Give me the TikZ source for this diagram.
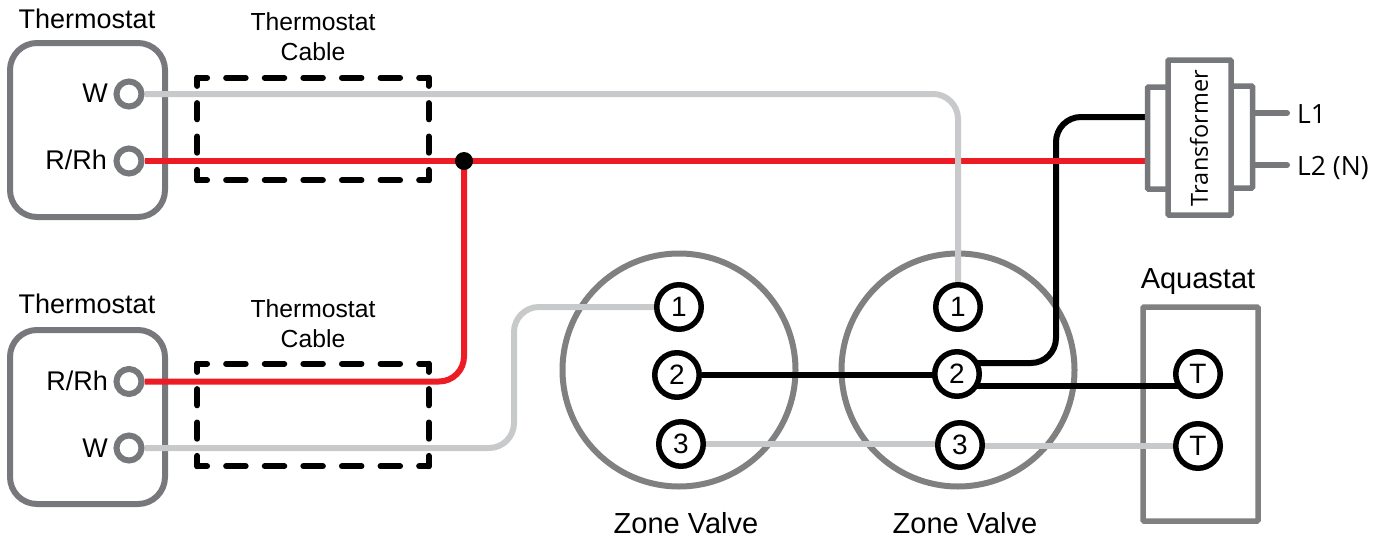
\documentclass[tikz,border=0pt]{standalone}
\usepackage{fontspec}
\setmainfont{Liberation Sans}
\newfontfamily\myr{Open Sans}
\usetikzlibrary{calc}
\definecolor{outl}{HTML}{77787B}
\definecolor{valv}{HTML}{808080}
\definecolor{wgray}{HTML}{C8C9CA}
\definecolor{wred}{HTML}{ED1C24}
\pgfdeclarelayer{shell}\pgfdeclarelayer{wires}
\pgfsetlayers{shell,wires,main}
\tikzset{
  x=1pt,y=-1pt,
  tstat/.style={draw=outl,line width=6pt,rounded corners=27pt,minimum width=155pt,minimum height=174pt,inner sep=0pt,fill=white},
  cablebox/.style={minimum width=231pt,minimum height=102pt,inner sep=0pt},
  cabh/.style={line width=6pt,line cap=round,dash pattern=on 19.5pt off 19.1pt,dash phase=9.75pt},
  cabv/.style={line width=6pt,line cap=round,dash pattern=on 16.2pt off 17.2pt,dash phase=8.1pt},
  term/.style={circle,draw=outl,line width=6pt,minimum size=25pt,inner sep=0pt,fill=white},
  valvec/.style={circle,draw=valv,line width=6pt,minimum size=233pt,inner sep=0pt},
  pin/.style={circle,draw=black,line width=5.5pt,minimum size=44.5pt,inner sep=0pt,fill=white,font=\fontsize{28}{28}\selectfont},
  wire/.style={line width=6pt,rounded corners=25pt},
  wg/.style={wire,draw=wgray},
  wr/.style={wire,draw=wred},
  wb/.style={wire,draw=black},
  xf/.style={draw=outl,line width=5.5pt,rounded corners=1pt,inner sep=0pt,fill=white},
  lab/.style={font=\fontsize{27}{27}\selectfont,inner sep=0pt},
  bigl/.style={font=\fontsize{29}{29}\selectfont,inner sep=0pt,anchor=base},
  cablab/.style={font=\fontsize{24.7}{30}\selectfont,inner sep=0pt,align=center},
  stub/.style={draw=outl,line width=6pt,line cap=round},
}
\begin{document}
\begin{tikzpicture}
\useasboundingbox (0,0) rectangle (1385,541);
\begin{pgfonlayer}{shell}
  \node[tstat] (th1) at (87.5,130) {};
  \node[tstat] (th2) at (87.5,417) {};
  \node[valvec] (zv1) at (679,370) {};
  \node[valvec] (zv2) at (958,370) {};
  \node[draw=valv,line width=5.5pt,rounded corners=1pt,minimum width=115pt,minimum height=214pt,inner sep=0pt] (aq) at (1200.5,414) {};
  \node[cablebox] (cb1) at (313,129) {};
  \node[cablebox] (cb2) at (313,415) {};
  \foreach \b in {cb1,cb2}{
    \draw[cabh] (\b.north west) -- (\b.north east);
    \draw[cabh] (\b.south west) -- (\b.south east);
    \draw[cabv] (\b.north west) -- (\b.south west);
    \draw[cabv] (\b.north east) -- (\b.south east);
  }
\end{pgfonlayer}
% transformer
\node[xf,minimum width=23pt,minimum height=102pt] (xl) at (1159,138) {};
\node[xf,minimum width=23pt,minimum height=102pt] (xr) at (1241,137) {};
\node[xf,minimum width=63pt,minimum height=155pt] (xc) at (1199.5,137.5) {};
\node[rotate=90,inner sep=0pt,font=\myr\fontsize{23.5}{24}\selectfont] (xt) at (1199,138) {Transformer};
\coordinate (l1end) at (1287,113);
\coordinate (l2end) at (1287,165);
\draw[stub] (xr.east |- l1end) -- (l1end);
\draw[stub] (xr.east |- l2end) -- (l2end);
\node[lab,anchor=west,font=\myr\fontsize{26.5}{26.5}\selectfont] (l1) at (1297,114) {L1};
\node[lab,anchor=west,font=\myr\fontsize{26.5}{26.5}\selectfont] (l2) at (1297,168) {L2 (N)};
% terminals
\node[term] (w1) at (129,94) {};
\node[term] (r1) at (129,161) {};
\node[term] (r2) at (129,381.5) {};
\node[term] (w2) at (129,448) {};
\node[lab,anchor=east] (w1t) at (108,93) {W};
\node[lab,anchor=east] (r1t) at (107,160) {R/Rh};
\node[lab,anchor=east] (r2t) at (108,381) {R/Rh};
\node[lab,anchor=east] (w2t) at (108,448) {W};
% pins
\node[pin] (a1) at (679,307) {1};
\node[pin] (a2) at (677,375) {2};
\node[pin] (a3) at (681,444) {3};
\node[pin] (b1) at (958,307) {1};
\node[pin] (b2) at (957,374) {2};
\node[pin] (b3) at (960,445) {3};
\node[pin] (t1) at (1198,374) {T};
\node[pin] (t2) at (1198,446) {T};
% wires
\coordinate (jct) at (464,161);
\coordinate (gv) at (958,94);
\coordinate (bk1) at (1056,117);
\coordinate (bk2) at (1056,363);
\coordinate (b2u) at (970,363);
\coordinate (b2d) at (970,386);
\coordinate (t1d) at (1180,386);
\coordinate (g1) at (514,448);
\coordinate (g2) at (514,307);
\begin{pgfonlayer}{wires}
  \draw[wb] (xl.west |- bk1) -- (bk1) -- (bk2) -- (b2u);
  \draw[wb] (b2d) -- (t1d);
  \draw[wb] (a2) -- (a2 -| b2);
  \draw[wr] (r1) -- (jct) -- (xl.west |- jct);
  \draw[wr] (jct) -- (jct |- r2) -- (r2);
  \draw[wg] (w1) -- (gv) -- (b1);
  \draw[wg] (w2) -- (g1) -- (g2) -- (a1);
  \draw[wg] (a3) -- (a3 -| b3);
  \draw[wg] (b3 |- t2) -- (t2);
\end{pgfonlayer}
\node[circle,fill=black,minimum size=18pt,inner sep=0pt] (jdot) at (jct) {};
% labels
\node[lab] (th1t) at (87,19) {Thermostat};
\node[lab] (th2t) at (87,304) {Thermostat};
\node[cablab] (cl1) at (313,37) {Thermostat\\Cable};
\node[cablab] (cl2) at (313,324) {Thermostat\\Cable};
\node[bigl] (zv1t) at (686,533) {Zone Valve};
\node[bigl] (zv2t) at (965,533) {Zone Valve};
\node[bigl] (aqt) at (1198,288) {Aquastat};
\end{tikzpicture}
\end{document}
